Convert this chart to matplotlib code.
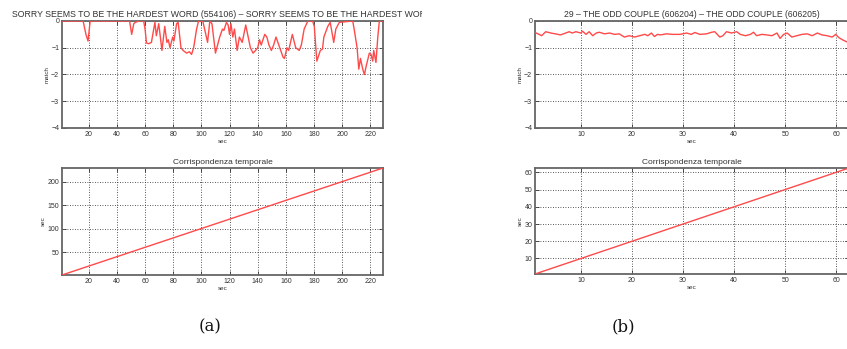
import matplotlib
matplotlib.use("Agg")
import matplotlib.pyplot as plt
from matplotlib.transforms import Bbox, TransformedBbox

# ---------------- data ----------------
title_a = "SORRY SEEMS TO BE THE HARDEST WORD (554106) \u2013 SORRY SEEMS TO BE THE HARDEST WORD"
title_b = "29 \u2013 THE ODD COUPLE (606204) \u2013 THE ODD COUPLE (606205)"
title_corr = "Corrispondenza temporale"

a_sec = [1, 16, 18, 19.5, 21, 49, 50.5, 52, 53, 56,
         59, 60, 61, 62.5, 64.5, 67, 68, 69.7, 72, 74,
         75.5, 76.5, 77.7, 79.6, 80.5, 82.4, 83.5, 85.5, 87, 89.5,
         91.5, 93, 94.5, 96.6, 98, 101, 104.4, 106, 107.5, 110,
         111.5, 113, 115, 116, 117.8, 119, 120, 121, 122.3, 123.5,
         125.4, 127, 129, 131.5, 134.8, 136.7, 138.5, 140, 141.3, 142.5,
         145, 146.5, 148, 149.7, 151.3, 153, 155, 158, 159, 160.8,
         162, 164.6, 167, 169.5, 171, 173, 175.6, 179, 180.2, 182,
         184.5, 186, 187, 189.8, 191.5, 194, 195.5, 198, 207.5, 208.5,
         210.6, 211.8, 213, 214.6, 215.8, 217, 219.3, 220.5, 221.7, 222.4,
         224, 225.3, 226.4, 229]
a_match = [0, 0, -0.5, -0.75, 0, 0, -0.5, -0.1, -0.05, 0,
           0, -0.3, -0.82, -0.85, -0.8, -0.05, -0.55, -0.1, -1.1, -0.2,
           -0.8, -0.7, -1.0, -0.6, -0.75, -0.1, -0.05, -1.0, -1.1, -1.2,
           -1.15, -1.25, -1.0, -0.3, 0, 0, -0.8, 0, -0.1, -1.2,
           -0.9, -0.6, -0.3, -0.35, -0.05, -0.15, -0.5, -0.1, -0.6, -0.3,
           -1.1, -0.6, -0.8, -0.15, -1.0, -1.2, -1.1, -1.0, -0.7, -0.9,
           -0.5, -0.6, -0.9, -1.1, -0.9, -0.6, -0.9, -1.35, -1.4, -1.0,
           -1.1, -0.5, -1.0, -1.1, -0.9, -0.3, 0, 0, -0.2, -1.5,
           -1.1, -1.05, -0.6, -0.2, -0.05, -0.8, -0.3, -0.05, 0, -0.3,
           -1.0, -1.8, -1.4, -1.8, -2.0, -1.7, -1.2, -1.25, -1.5, -1.1,
           -1.55, -0.6, 0, 0]

b_sec = [1, 1.8, 2.3, 3.1, 4.1, 5, 6, 7, 7.7, 8.3,
         9, 10, 10.3, 11, 11.6, 12.3, 13, 13.6, 14.6, 15.6,
         16.6, 17.5, 18.5, 19.5, 20.5, 21.5, 22.5, 23.1, 23.8, 24.4,
         25, 25.6, 26.7, 28, 29.4, 30.7, 31.6, 32.3, 33.3, 34.6,
         35.6, 36.2, 37.2, 37.8, 38.5, 39.5, 40.5, 41.2, 42.2, 43.2,
         43.8, 44.4, 45.4, 46.4, 47.4, 48.4, 49, 49.7, 50.4, 51.3,
         52.3, 53.3, 54.3, 55.3, 56.3, 57.2, 58.2, 59.2, 59.9, 60.5,
         61.2, 62.5]
b_match = [-0.43, -0.5, -0.55, -0.4, -0.45, -0.48, -0.52, -0.45, -0.4, -0.45,
           -0.4, -0.45, -0.38, -0.5, -0.4, -0.55, -0.45, -0.42, -0.48, -0.45,
           -0.5, -0.48, -0.6, -0.55, -0.6, -0.55, -0.5, -0.55, -0.45, -0.58,
           -0.5, -0.52, -0.48, -0.5, -0.5, -0.45, -0.5, -0.43, -0.5, -0.48,
           -0.42, -0.4, -0.6, -0.55, -0.4, -0.45, -0.4, -0.5, -0.55, -0.5,
           -0.42, -0.55, -0.5, -0.52, -0.55, -0.45, -0.65, -0.5, -0.45, -0.6,
           -0.55, -0.5, -0.48, -0.55, -0.45, -0.52, -0.55, -0.6, -0.5, -0.62,
           -0.7, -0.82]

# time correspondence (reference sec -> matched sec)
a_corr_x = [1, 229]
a_corr_y = [1, 229]
b_corr_x = [1, 62.5]
b_corr_y = [1, 62.5]

a_xticks = [20, 40, 60, 80, 100, 120, 140, 160, 180, 200, 220]
b_xticks = [10, 20, 30, 40, 50, 60]
match_yticks = [0, -1, -2, -3, -4]
a_corr_yticks = [50, 100, 150, 200]
b_corr_yticks = [10, 20, 30, 40, 50, 60]

# ---------------- figure ----------------
W, H = 847, 349
fig = plt.figure(figsize=(W / 100, H / 100), dpi=100)
plt.rcParams['font.family'] = ['Liberation Sans', 'DejaVu Sans']

def px_axes(l, t, r, b):
    return fig.add_axes([l / W, 1 - b / H, (r - l) / W, (b - t) / H])

TXT = '#333333'
RED = '#ff4a4a'

def style(ax, xlim, ylim, xt, yt, ylabel, title, tsize=6, clip_right=None):
    ax.set_xlim(*xlim)
    ax.set_ylim(*ylim)
    ax.set_xticks(xt)
    ax.set_yticks(yt)
    ax.set_yticklabels([str(v).replace('-', '\u2212') for v in yt])
    ax.tick_params(direction='in', length=3, width=0.6, labelsize=5,
                   colors=TXT, top=True, right=True, pad=2)
    ax.grid(True, linestyle=(0, (1, 2)), color='#222222', linewidth=0.6)
    for s in ax.spines.values():
        s.set_color('#666666')
        s.set_linewidth(1.3)
    ax.set_xlabel('sec', fontsize=4.5, color=TXT, labelpad=1)
    ax.set_ylabel(ylabel, fontsize=4.5, color=TXT, labelpad=1)
    t = ax.set_title(title, fontsize=tsize, color=TXT, pad=3)
    if clip_right is not None:
        t.set_clip_box(TransformedBbox(Bbox([[0, 0], [clip_right / W, 1]]), fig.transFigure))
        t.set_clip_on(True)

# (a) top
ax1 = px_axes(62, 21, 383, 128)
ax1.plot(a_sec, a_match, color=RED, linewidth=1.0, zorder=3)
style(ax1, (1, 229), (-4, 0), a_xticks, match_yticks, 'match', title_a,
      tsize=6.35, clip_right=422)

# (a) bottom
ax2 = px_axes(62, 168, 383, 275)
ax2.plot(a_corr_x, a_corr_y, color=RED, linewidth=1.0, zorder=3)
style(ax2, (1, 229), (1, 229), a_xticks, a_corr_yticks, 'sec', title_corr)

# (b) top
ax3 = px_axes(535, 21, 849, 128)
ax3.plot(b_sec, b_match, color=RED, linewidth=1.0, zorder=3)
style(ax3, (1, 62.5), (-4, 0), b_xticks, match_yticks, 'match', title_b, tsize=6.2)

# (b) bottom
ax4 = px_axes(535, 168, 849, 274)
ax4.plot(b_corr_x, b_corr_y, color=RED, linewidth=1.0, zorder=3)
style(ax4, (1, 62.5), (1, 62.5), b_xticks, b_corr_yticks, 'sec', title_corr)

# sub-captions
fig.text(210 / W, 1 - 327 / H, '(a)', fontsize=12, family='DejaVu Serif',
         ha='center', va='center', color='#111111')
fig.text(623 / W, 1 - 327 / H, '(b)', fontsize=12, family='DejaVu Serif',
         ha='center', va='center', color='#111111')

fig.savefig('out.png', dpi=100)
